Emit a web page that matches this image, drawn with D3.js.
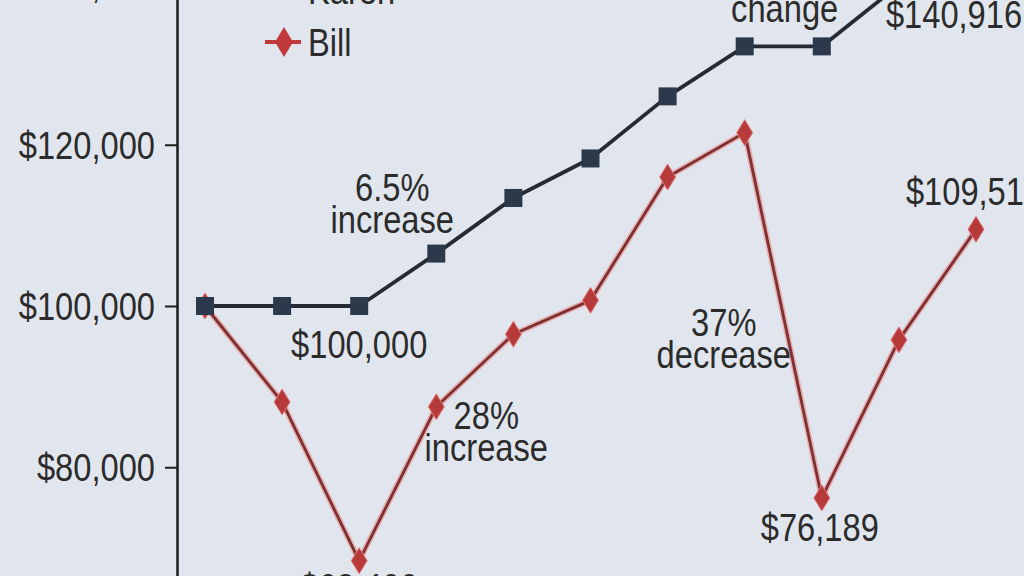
<!DOCTYPE html>
<html>
<head>
<meta charset="utf-8">
<script src="https://cdn.jsdelivr.net/npm/d3@7"></script>
<style>
  html, body { margin: 0; padding: 0; background: #e1e6ee; }
  svg { display: block; }
  text { font-family: "Liberation Sans", Arial, sans-serif; fill: #2b2b2b; }
</style>
</head>
<body>
<svg id="chart" width="1024" height="576"></svg>
<script>
// ---- data ----
const categories = ["Year 0","Year 1","Year 2","Year 3","Year 4","Year 5","Year 6","Year 7","Year 8","Year 9","Year 10"];
const karenValues = [100000, 100000, 100000, 106500, 113400, 118300, 126000, 132200, 132200, 139800, 140916];
const billValues  = [100000, 88100, 68400, 87500, 96500, 100700, 116000, 121500, 76189, 95800, 109510];
const yTicks = [60000, 80000, 100000, 120000, 140000];
const seriesNames = ["Karen", "Bill"];

// ---- layout ----
const W = 1024, H = 576;
const SX = 0.86;      // horizontal condensing of the text
const FS = 38;
const svg = d3.select("#chart");
svg.append("rect").attr("width", W).attr("height", H).attr("fill", "#e1e6ee");

const x = d3.scalePoint().domain(categories).range([205, 976]);
const y = d3.scaleLinear().domain([60000, 140000]).range([628.5, -16.5]);
const fmt = v => "$" + d3.format(",")(v);

// y axis
const yAxis = d3.axisLeft(y).tickValues(yTicks).tickFormat(fmt).tickSize(12).tickSizeOuter(0).tickPadding(10);
const gy = svg.append("g").attr("transform", "translate(177,0)").call(yAxis);
gy.select(".domain").attr("stroke", "#1c1c1c").attr("stroke-width", 2.5);
gy.selectAll(".tick line").attr("stroke", "#1c1c1c").attr("stroke-width", 2);
gy.selectAll(".tick text").attr("font-size", FS).attr("x", 0).attr("dy", "0.36em")
  .attr("transform", `translate(-22,0) scale(${SX},1)`)
  .style("font-family", '"Liberation Sans", Arial, sans-serif').attr("fill", "#2b2b2b");

// x axis (below visible area)
const gx = svg.append("g").attr("transform", "translate(0,628.5)").call(d3.axisBottom(x));
gx.selectAll("text").attr("font-size", 24);

const line = d3.line().x((d, i) => x(categories[i])).y(d => y(d));

// Bill line: halo + core
svg.append("path").datum(billValues).attr("d", line).attr("fill", "none")
  .attr("stroke", "#e98585").attr("stroke-width", 6).attr("stroke-opacity", 0.55).attr("stroke-linejoin", "round");
svg.append("path").datum(billValues).attr("d", line).attr("fill", "none")
  .attr("stroke", "#7e2f2f").attr("stroke-width", 2.8).attr("stroke-linejoin", "round");

// Karen line
svg.append("path").datum(karenValues).attr("d", line).attr("fill", "none")
  .attr("stroke", "#242b35").attr("stroke-width", 3.8).attr("stroke-linejoin", "round");

const diamond = (cx, cy, hw, hh) => `M${cx},${cy - hh}L${cx + hw},${cy}L${cx},${cy + hh}L${cx - hw},${cy}Z`;

// Bill markers
svg.append("g").selectAll("path").data(billValues).join("path")
  .attr("d", (d, i) => diamond(x(categories[i]), y(d), 8, 13))
  .attr("fill", "#b73a3a").attr("stroke", "#e07a7a").attr("stroke-width", 1);

// Karen markers
svg.append("g").selectAll("rect").data(karenValues).join("rect")
  .attr("x", (d, i) => x(categories[i]) - 9).attr("y", d => y(d) - 9)
  .attr("width", 18).attr("height", 18).attr("fill", "#2c394a");

// condensed text helper
function ctext(px, py, lines, anchor, lh) {
  const g = svg.append("g").attr("transform", `translate(${px},${py}) scale(${SX},1)`);
  const t = g.append("text").attr("text-anchor", anchor || "middle").attr("font-size", FS);
  lines.forEach((s, k) => t.append("tspan").attr("x", 0).attr("y", k * (lh || 32)).text(s));
  return t;
}

// legend
svg.append("line").attr("x1", 264).attr("x2", 304).attr("y1", -10).attr("y2", -10).attr("stroke", "#242b35").attr("stroke-width", 3.5);
svg.append("rect").attr("x", 275).attr("y", -19).attr("width", 18).attr("height", 18).attr("fill", "#2c394a");
ctext(308, 4, [seriesNames[0]], "start");
svg.append("line").attr("x1", 265).attr("x2", 301).attr("y1", 42).attr("y2", 42).attr("stroke", "#c0393b").attr("stroke-width", 4);
svg.append("path").attr("d", diamond(284, 42, 9, 15)).attr("fill", "#c0393b");
ctext(308, 56, [seriesNames[1]], "start");

// annotations (anchored to data points)
function note(series, idx, dx, dy, lines) {
  const vals = series === "Karen" ? karenValues : billValues;
  ctext(x(categories[idx]) + dx, y(vals[idx]) + dy, lines, "middle", 32);
}
note("Karen", 2, 0, 52, [fmt(karenValues[2])]);
note("Karen", 3, -44, -53, ["6.5%", "increase"]);
note("Bill", 3, 50, 22, ["28%", "increase"]);
note("Bill", 8, -98, -162, ["37%", "decrease"]);
note("Bill", 8, -2, 43, [fmt(billValues[8])]);
note("Bill", 10, -2, -24, [fmt(billValues[10])]);
note("Bill", 2, 0, 40, [fmt(billValues[2])]);
note("Karen", 7, 40, -56, ["no", "change"]);
note("Karen", 10, -22, 52, [fmt(karenValues[10])]);
</script>
</body>
</html>
